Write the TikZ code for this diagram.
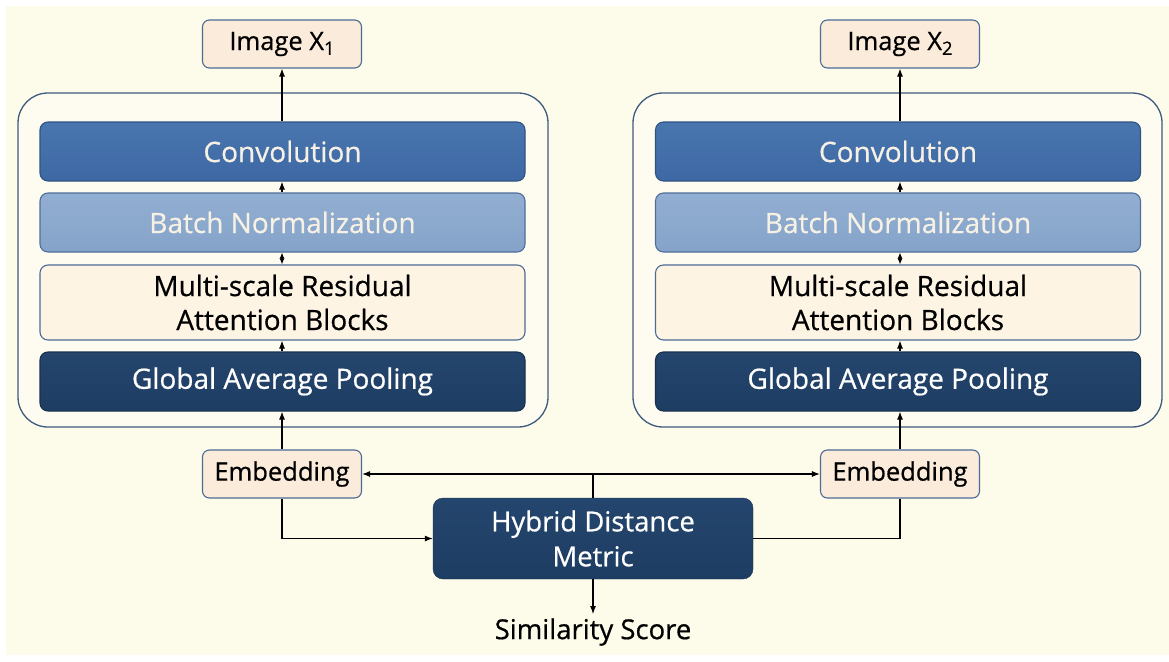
\documentclass[tikz,border=0pt]{standalone}
\usepackage{fontspec}
\usepackage{graphicx}
\setmainfont{Open Sans}
\newfontface\medface{Open Sans}[FakeBold=0.6]
\usetikzlibrary{arrows.meta,positioning,calc}

\definecolor{bgcream}{HTML}{FDFBE9}
\definecolor{panelfill}{HTML}{FEFCF0}
\definecolor{panelline}{HTML}{3F5A7E}
\definecolor{convblue}{HTML}{3D68A3}
\definecolor{convblueL}{HTML}{4A76B0}
\definecolor{bnblue}{HTML}{85A3C9}
\definecolor{bnblueL}{HTML}{92AED2}
\definecolor{bnline}{HTML}{4F6F9B}
\definecolor{navy}{HTML}{1E3D63}
\definecolor{navyL}{HTML}{24456D}
\definecolor{peach}{HTML}{FBEBDB}
\definecolor{creamblk}{HTML}{FDF4E4}
\definecolor{boxline}{HTML}{4C6B96}
\definecolor{lighttext}{HTML}{F6F1E4}

\newcommand\lowidx[1]{\raisebox{-0.35ex}{\scalebox{0.72}{#1}}}

\begin{document}
\begin{tikzpicture}[x=1pt,y=-1pt,
  txt/.style={align=center, inner sep=0pt},
  big/.style={txt, font=\medface\fontsize{28}{34}\selectfont},
  small/.style={txt, font=\medface\fontsize{25.5}{34}\selectfont},
  mid/.style={txt, font=\medface\fontsize{27.5}{35}\selectfont},
  panel/.style={draw=panelline, line width=1.3pt, fill=panelfill, rounded corners=30pt},
  layer/.style={big, rounded corners=8pt, minimum width=485pt, line width=1.1pt},
  convbox/.style={layer, draw=convblue!80!black, top color=convblueL, bottom color=convblue, text=lighttext, minimum height=59pt},
  bnbox/.style={layer, draw=bnline, top color=bnblueL, bottom color=bnblue, text=lighttext, minimum height=59pt},
  resbox/.style={layer, draw=boxline, fill=creamblk, text=black, minimum height=75pt},
  gapbox/.style={layer, draw=navy!80!black, top color=navyL, bottom color=navy, text=white, minimum height=59pt},
  iobox/.style={small, draw=boxline, fill=peach, line width=1.1pt, rounded corners=7pt, minimum width=159pt, minimum height=48pt},
  hybbox/.style={mid, draw=navy!80!black, top color=navyL, bottom color=navy, text=white, rounded corners=10pt, minimum width=320pt, minimum height=81pt},
  tipL/.tip={Latex[length=8pt,width=6pt]},
  tipS/.tip={Latex[length=6pt,width=5pt]},
  arr/.style={draw=black, line width=1.1pt, -tipL},
  dbl/.style={draw=black, line width=1.1pt, tipS-tipS},
  both/.style={draw=black, line width=1.1pt, tipL-tipL},
  plain/.style={draw=black, line width=1.1pt}
]
\useasboundingbox (0,0) rectangle (1169,661);
\fill[white] (0,0) rectangle (1169,661);
\fill[bgcream] (6,6) rectangle (1169,655);

% two encoder branches
\draw[panel] (18,93) rectangle (548,427);
\draw[panel] (633,93) rectangle (1162,427);

% left branch
\node[iobox] (imgL) at (282,44) {Image X\lowidx{1}};
\node[convbox] (convL) at (282.5,151.5) {Convolution};
\node[bnbox] (bnL) at (282.5,222.5) {Batch Normalization};
\node[resbox] (resL) at (282.5,302.5) {Multi-scale Residual\\Attention Blocks};
\node[gapbox] (gapL) at (282.5,381.5) {Global Average Pooling};
\node[iobox] (embL) at (282,474) {Embedding};

% right branch
\node[iobox] (imgR) at (900,44) {Image X\lowidx{2}};
\node[convbox] (convR) at (898,151.5) {Convolution};
\node[bnbox] (bnR) at (898,222.5) {Batch Normalization};
\node[resbox] (resR) at (898,302.5) {Multi-scale Residual\\Attention Blocks};
\node[gapbox] (gapR) at (898,381.5) {Global Average Pooling};
\node[iobox] (embR) at (900,474) {Embedding};

% distance head
\node[hybbox] (hyb) at (593,538.5) {Hybrid Distance\\Metric};
\node[mid, text=black, inner sep=4pt] (sim) at (593,632) {Similarity Score};

% flow inside the branches, kept on the axis of the input/output boxes
\foreach \s in {L,R}{
  \draw[arr] (img\s.south |- conv\s.north) -- (img\s.south);
  \draw[arr] (img\s.south |- bn\s.north) -- (img\s.south |- conv\s.south);
  \draw[dbl] (img\s.south |- res\s.north) -- (img\s.south |- bn\s.south);
  \draw[arr] (img\s.south |- gap\s.north) -- (img\s.south |- res\s.south);
  \draw[arr] (emb\s.north) -- (emb\s.north |- gap\s.south);
}

% embedding links
\draw[both] (embL.east) -- (embR.west);
\coordinate (mid) at (hyb.north |- embL.east);
\draw[plain] (mid) -- (hyb.north);
\draw[arr] (embL.south) |- (hyb.west);
\draw[plain] (embR.south) |- (hyb.east);
\draw[arr] (hyb.south) -- (sim.north);
\end{tikzpicture}
\end{document}
